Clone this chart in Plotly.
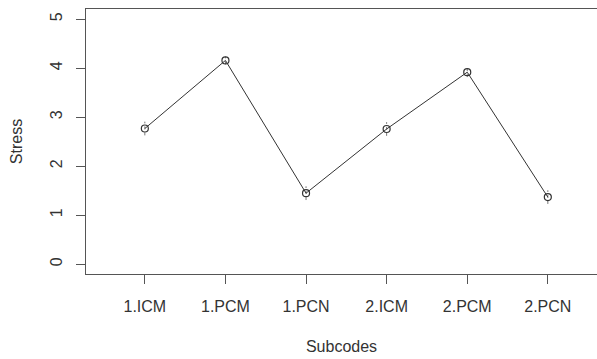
import plotly.graph_objects as go

subcodes = ["1.ICM", "1.PCM", "1.PCN", "2.ICM", "2.PCM", "2.PCN"]
stress = [2.77, 4.16, 1.45, 2.76, 3.92, 1.37]
err = [0.14, 0.08, 0.14, 0.14, 0.10, 0.14]
y_ticks = [0, 1, 2, 3, 4, 5]

xpos = list(range(1, len(subcodes) + 1))

# dotted error whiskers
ex, ey = [], []
for x, y, e in zip(xpos, stress, err):
    ex += [x, x, None]
    ey += [y - e, y + e, None]

fig = go.Figure()
fig.add_trace(go.Scatter(x=ex, y=ey, mode="lines",
                         line=dict(color="#777", width=1, dash="dot"),
                         hoverinfo="skip", showlegend=False))
fig.add_trace(go.Scatter(x=xpos, y=stress, mode="lines+markers",
                         line=dict(color="#333", width=1),
                         marker=dict(symbol="circle-open", size=7,
                                     color="#333", line=dict(width=1.2)),
                         showlegend=False))

axis_font = dict(family="Liberation Sans, Arial", size=16, color="#333")
fig.update_layout(
    width=597, height=359,
    margin=dict(l=86, r=0, t=9, b=85),
    paper_bgcolor="white", plot_bgcolor="white",
    font=axis_font,
)
fig.update_xaxes(
    range=[0.27, 6.61], tickmode="array", tickvals=xpos, ticktext=subcodes,
    showgrid=False, zeroline=False,
    showline=True, linecolor="#555", linewidth=1.2, mirror=True,
    ticks="outside", ticklen=9, tickcolor="#555", tickwidth=1.2,
    ticklabelstandoff=9,
    title=dict(text="Subcodes", standoff=26, font=axis_font),
)
fig.update_yaxes(
    range=[-0.2, 5.21], tickmode="array", tickvals=y_ticks,
    showgrid=False, zeroline=False,
    showline=True, linecolor="#555", linewidth=1.2, mirror=False,
    ticks="outside", ticklen=9, tickcolor="#555", tickwidth=1.2,
    tickangle=-90, ticklabelstandoff=8,
    title=dict(text="Stress", standoff=20, font=axis_font),
)
fig.write_html("out.html", config={"displayModeBar": False},
               post_script="document.body.style.margin='0';")
